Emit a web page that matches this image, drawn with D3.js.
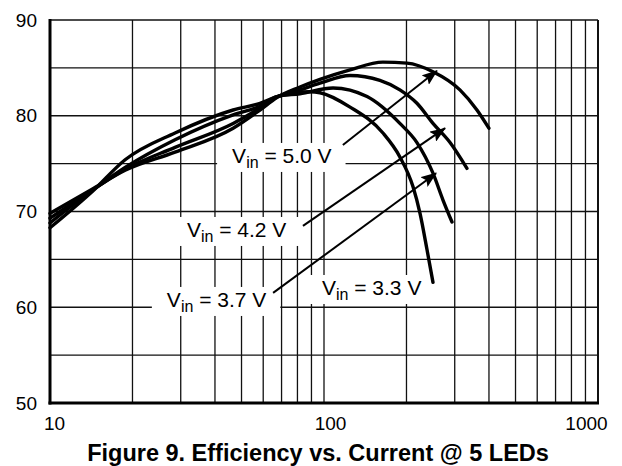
<!DOCTYPE html>
<html>
<head>
<meta charset="utf-8">
<title>Efficiency vs. Current</title>
<script src="https://d3js.org/d3.v7.min.js"></script>
<style>
    body { margin: 0; background: #fff; }
    svg text { font-family: "Liberation Sans", Arial, Helvetica, sans-serif; fill: #000; }
</style>
</head>
<body>
<div class="chart"></div>
<script>
// LED current (mA) and efficiency (%)
var current50 = [10, 14.4, 18.8, 28.6, 46.6, 58.4, 67.3, 81.7, 96.7, 124.5, 164.1, 200.8, 249.9, 313.4, 361.6, 399.8];
var eff50     = [69.8, 72.4, 74.3, 76.2, 78.7, 80.6, 81.9, 83.0, 83.8, 84.8, 85.6, 85.5, 84.6, 82.7, 80.6, 78.7];

var current42 = [10, 14.4, 18.8, 28.6, 46.6, 58.4, 67.3, 81.7, 96.7, 124.5, 160, 189.2, 218.4, 249.9, 288.4, 332.4];
var eff42     = [69.3, 72.3, 74.4, 76.7, 79.2, 80.8, 81.95, 82.7, 83.4, 84.2, 83.7, 82.7, 81.3, 79.2, 77.2, 74.5];

var current37 = [10, 14.4, 18.8, 28.6, 46.6, 58.4, 67.3, 81.7, 107.9, 143.6, 189.2, 218.4, 249.9, 271.8, 293.2];
var eff37     = [68.8, 72.3, 74.6, 77.5, 80.1, 81.0, 82.0, 82.3, 82.9, 82.0, 79.2, 77.2, 74.0, 71.2, 68.9];

var current33 = [10, 14.4, 18.8, 28.6, 46.6, 58.4, 67.3, 88.9, 96.7, 124.5, 164.1, 189.2, 211.2, 224.1, 237.7, 249.9];
var eff33     = [68.3, 72.2, 75.4, 78.2, 80.6, 81.3, 82.0, 82.5, 82.4, 80.9, 78.2, 75.7, 72.6, 69.8, 66.0, 62.6];

var vinLabels = ["5.0", "4.2", "3.7", "3.3"];
// label text start / baseline, in (mA, %)
var labelAt = [[46.2, 75.07], [31.6, 67.34], [26.7, 60.03], [98.3, 61.28]];
// arrows from label to curve, [from, to] in (mA, %)
var arrows = [
    [[117.2, 76.95], [258.3, 84.7]],
    [[83.8, 68.5], [276.6, 78.7]],
    [[65.2, 61.5], [256.5, 74.0]]
];

var xLabels = [10, 100, 1000];
var yLabels = [50, 60, 70, 80, 90];
var yGrid = [55, 60, 65, 70, 75, 80, 85];
var title = "Figure 9. Efficiency vs. Current @ 5 LEDs";

var W = 622, H = 466;
var margin = {top: 20, right: 24, bottom: 63, left: 50};

var svg = d3.select(".chart").append("svg")
    .attr("width", W)
    .attr("height", H)
    .style("display", "block");

svg.append("rect").attr("width", W).attr("height", H).attr("fill", "#fff");

var x = d3.scaleLog().domain([10, 1000]).range([margin.left, W - margin.right]);
var y = d3.scaleLinear().domain([50, 90]).range([H - margin.bottom, margin.top]);

// grid
var grid = svg.append("g");
grid.selectAll(".vgrid")
    .data(x.ticks().filter(function(d){ return d > 10 && d < 1000; }))
    .enter().append("line")
    .attr("x1", function(d){ return x(d); })
    .attr("x2", function(d){ return x(d); })
    .attr("y1", y(90))
    .attr("y2", y(50))
    .attr("stroke", "#111")
    .attr("stroke-width", 1.3);
grid.selectAll(".hgrid")
    .data(yGrid)
    .enter().append("line")
    .attr("x1", x(10))
    .attr("x2", x(1000))
    .attr("y1", function(d){ return y(d); })
    .attr("y2", function(d){ return y(d); })
    .attr("stroke", "#111")
    .attr("stroke-width", 1.3);

// frame
svg.append("line").attr("x1", x(10)).attr("x2", x(1000)).attr("y1", y(90)).attr("y2", y(90))
    .attr("stroke", "#111").attr("stroke-width", 1.5);
svg.append("line").attr("x1", x(1000)).attr("x2", x(1000)).attr("y1", y(90)).attr("y2", y(50))
    .attr("stroke", "#111").attr("stroke-width", 2);

// label boxes + text (box hides the grid)
var labelLayer = svg.append("g");
var labelText = svg.append("g");
vinLabels.forEach(function(v, i){
    var t = labelText.append("text")
        .attr("x", x(labelAt[i][0]))
        .attr("y", y(labelAt[i][1]))
        .style("font-size", "21px");
    t.append("tspan").text("V");
    t.append("tspan").text("in").attr("dy", 5).style("font-size", "16px");
    t.append("tspan").text(" = " + v + " V").attr("dy", -5);
    var bb = t.node().getBBox();
    labelLayer.append("rect")
        .attr("x", bb.x - 15)
        .attr("y", bb.y - 1)
        .attr("width", bb.width + 29)
        .attr("height", bb.height + 2)
        .attr("fill", "#fff");
});

// axis lines (thick left / bottom)
svg.append("line").attr("x1", x(10)).attr("x2", x(10)).attr("y1", y(90) - 1).attr("y2", y(50) + 1.5)
    .attr("stroke", "#000").attr("stroke-width", 3);
svg.append("line").attr("x1", x(10) - 1.5).attr("x2", x(1000) + 1).attr("y1", y(50)).attr("y2", y(50))
    .attr("stroke", "#000").attr("stroke-width", 3);

// curves
var line = d3.line()
    .x(function(d){ return x(d[0]); })
    .y(function(d){ return y(d[1]); })
    .curve(d3.curveMonotoneX);

var series = [d3.zip(current50, eff50), d3.zip(current42, eff42), d3.zip(current37, eff37), d3.zip(current33, eff33)];
svg.append("g").selectAll("path")
    .data(series)
    .enter().append("path")
    .attr("d", line)
    .attr("fill", "none")
    .attr("stroke", "#000")
    .attr("stroke-width", 3.4)
    .attr("stroke-linecap", "round");

// arrows
svg.append("defs").append("marker")
    .attr("id", "head")
    .attr("markerUnits", "userSpaceOnUse")
    .attr("viewBox", "0 0 16 12")
    .attr("markerWidth", 16)
    .attr("markerHeight", 12)
    .attr("refX", 15)
    .attr("refY", 6)
    .attr("orient", "auto")
    .append("path")
    .attr("d", "M0,0 L16,6 L0,12 L3,6 Z")
    .attr("fill", "#000");

svg.append("g").selectAll("line")
    .data(arrows)
    .enter().append("line")
    .attr("x1", function(d){ return x(d[0][0]); })
    .attr("y1", function(d){ return y(d[0][1]); })
    .attr("x2", function(d){ return x(d[1][0]); })
    .attr("y2", function(d){ return y(d[1][1]); })
    .attr("stroke", "#000")
    .attr("stroke-width", 2)
    .attr("marker-end", "url(#head)");

labelText.raise();

// tick labels
var yAxis = svg.append("g")
    .attr("transform", "translate(" + x(10) + ",0)")
    .call(d3.axisLeft(y).tickValues(yLabels).tickSize(0).tickPadding(13));
yAxis.select(".domain").remove();
yAxis.selectAll("text").style("font-size", "19px").attr("font-family", null);

var tickDx = [4, 6, -12];
var xAxis = svg.append("g")
    .attr("transform", "translate(0," + y(50) + ")")
    .call(d3.axisBottom(x).tickValues(xLabels).tickFormat(d3.format("d")).tickSize(0).tickPadding(14));
xAxis.select(".domain").remove();
xAxis.selectAll("text").style("font-size", "19px").attr("font-family", null)
    .attr("dx", function(d, i){ return tickDx[i]; });

// caption
svg.append("text")
    .attr("x", 318)
    .attr("y", 461)
    .attr("text-anchor", "middle")
    .style("font-size", "23.5px")
    .style("font-weight", "bold")
    .text(title);
</script>
</body>
</html>
